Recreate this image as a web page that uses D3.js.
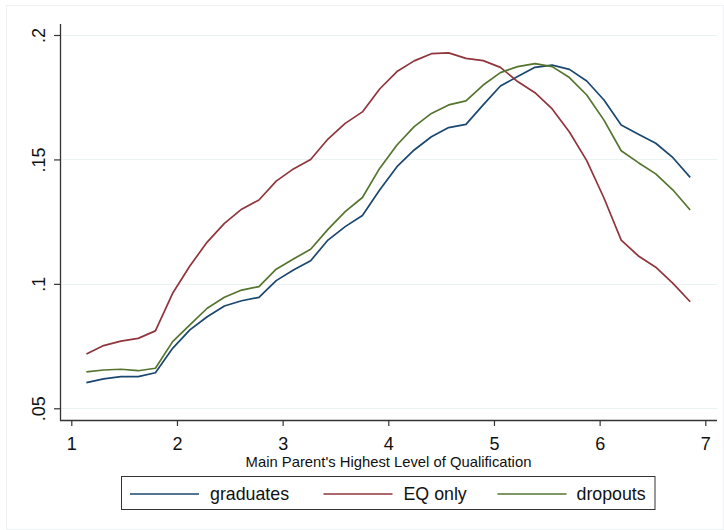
<!DOCTYPE html>
<html>
<head>
<meta charset="utf-8">
<script src="https://cdn.jsdelivr.net/npm/d3@7"></script>
<style>
  html, body { margin: 0; padding: 0; background: #fff; }
  svg { display: block; font-family: "Liberation Sans", Arial, sans-serif; }
</style>
</head>
<body>
<svg id="chart" width="724" height="530"></svg>
<script>
// ---- data ----
const xValues = [1.143,1.306,1.469,1.633,1.796,1.959,2.122,2.286,2.449,2.612,2.776,2.939,3.102,3.265,3.429,3.592,3.755,3.918,4.082,4.245,4.408,4.571,4.735,4.898,5.061,5.224,5.388,5.551,5.714,5.878,6.041,6.204,6.367,6.531,6.694,6.857];
const graduates = [.0603,.0618,.0627,.0627,.0643,.0741,.0815,.0868,.0911,.0932,.0946,.1013,.1056,.1093,.1176,.1230,.1275,.1377,.1471,.1538,.1591,.1628,.1641,.1719,.1795,.1833,.1870,.1879,.1862,.1815,.1739,.1638,.1601,.1565,.1507,.1428];
const eqOnly = [.0718,.0752,.0770,.0781,.0811,.0962,.1072,.1168,.1243,.1300,.1337,.1413,.1462,.1500,.1582,.1645,.1691,.1783,.1853,.1896,.1925,.1928,.1906,.1897,.1870,.1813,.1768,.1703,.1610,.1495,.1345,.1176,.1112,.1067,.1002,.0928];
const dropouts = [.0646,.0654,.0657,.0651,.0661,.0768,.0835,.0902,.0946,.0975,.0989,.1059,.1100,.1139,.1219,.1290,.1347,.1464,.1558,.1632,.1685,.1719,.1735,.1799,.1849,.1873,.1885,.1873,.1829,.1759,.1658,.1535,.1487,.1442,.1377,.1297];
const seriesNames = ["graduates", "EQ only", "dropouts"];
const xTickValues = [1, 2, 3, 4, 5, 6, 7];
const xTickLabels = ["1", "2", "3", "4", "5", "6", "7"];
const yTickValues = [0.05, 0.10, 0.15, 0.20];
const yTickLabels = [".05", ".1", ".15", ".2"];
const xTitle = "Main Parent's Highest Level of Qualification";

// ---- layout ----
const colors = ["#1a476f", "#90353b", "#55752f"];
const svg = d3.select("#chart");
const axisLeftX = 60, axisBottomY = 420, plotRight = 717, plotTop = 24;

const x = d3.scaleLinear().domain([1, 7]).range([71.3, 705.3]);
const y = d3.scaleLinear().domain([0.05, 0.2]).range([408.3, 35]);

// outer graph region border
svg.append("rect").attr("x", 6.5).attr("y", 5.5).attr("width", 717).attr("height", 524)
  .attr("fill", "none").attr("stroke", "#eef2f3").attr("stroke-width", 1);

// grid lines
svg.append("g").selectAll("line").data(yTickValues).join("line")
  .attr("x1", axisLeftX).attr("x2", plotRight)
  .attr("y1", d => Math.round(y(d)) + 0.5).attr("y2", d => Math.round(y(d)) + 0.5)
  .attr("stroke", "#eaf2f3").attr("stroke-width", 1.2);

// y axis
const yAxis = d3.axisLeft(y).tickValues(yTickValues)
  .tickFormat((d, i) => yTickLabels[i]).tickSize(6);
const gy = svg.append("g").attr("transform", `translate(${axisLeftX},0)`).call(yAxis);
gy.select(".domain").remove();
gy.selectAll(".tick line").attr("stroke", "#333").attr("stroke-width", 1.2);
gy.selectAll(".tick text")
  .attr("transform", "rotate(-90)")
  .attr("x", 0).attr("y", -15).attr("dy", null)
  .attr("text-anchor", "middle")
  .attr("font-size", 18).attr("fill", "#111")
  .style("font-family", "'Liberation Sans', Arial, sans-serif");
svg.append("line").attr("x1", axisLeftX + 0.5).attr("x2", axisLeftX + 0.5)
  .attr("y1", plotTop).attr("y2", axisBottomY + 0.5)
  .attr("stroke", "#333").attr("stroke-width", 1.3);

// x axis
const xAxis = d3.axisBottom(x).tickValues(xTickValues)
  .tickFormat((d, i) => xTickLabels[i]).tickSize(6);
const gx = svg.append("g").attr("transform", `translate(0,${axisBottomY})`).call(xAxis);
gx.select(".domain").remove();
gx.selectAll(".tick line").attr("stroke", "#333").attr("stroke-width", 1.2);
gx.selectAll(".tick text")
  .attr("y", 29.5).attr("dy", null)
  .attr("font-size", 18).attr("fill", "#111")
  .style("font-family", "'Liberation Sans', Arial, sans-serif");
svg.append("line").attr("x1", axisLeftX).attr("x2", plotRight)
  .attr("y1", axisBottomY + 0.5).attr("y2", axisBottomY + 0.5)
  .attr("stroke", "#333").attr("stroke-width", 1.3);

// x title
svg.append("text").attr("x", 388.5).attr("y", 466.5)
  .attr("text-anchor", "middle").attr("font-size", 14.8).attr("fill", "#111")
  .text(xTitle);

// lines
const allSeries = [graduates, eqOnly, dropouts];
const line = d3.line().x((d, i) => x(xValues[i])).y(d => y(d));
svg.append("g").selectAll("path").data(allSeries).join("path")
  .attr("d", d => line(d))
  .attr("fill", "none")
  .attr("stroke", (d, i) => colors[i])
  .attr("stroke-width", 1.7)
  .attr("stroke-linejoin", "round");

// legend
const legend = svg.append("g");
legend.append("rect").attr("x", 121.5).attr("y", 476.5).attr("width", 533.5).attr("height", 33)
  .attr("fill", "#fff").attr("stroke", "#333").attr("stroke-width", 1);
const legendItems = [
  { lx: 130, tx: 210 },
  { lx: 323.5, tx: 403.5 },
  { lx: 497.5, tx: 576.5 }
];
legendItems.forEach((it, i) => {
  legend.append("line").attr("x1", it.lx).attr("x2", it.lx + 69)
    .attr("y1", 494).attr("y2", 494)
    .attr("stroke", colors[i]).attr("stroke-width", 1.7);
  legend.append("text").attr("x", it.tx).attr("y", 500)
    .attr("font-size", 17.8).attr("fill", "#111").text(seriesNames[i]);
});
</script>
</body>
</html>
